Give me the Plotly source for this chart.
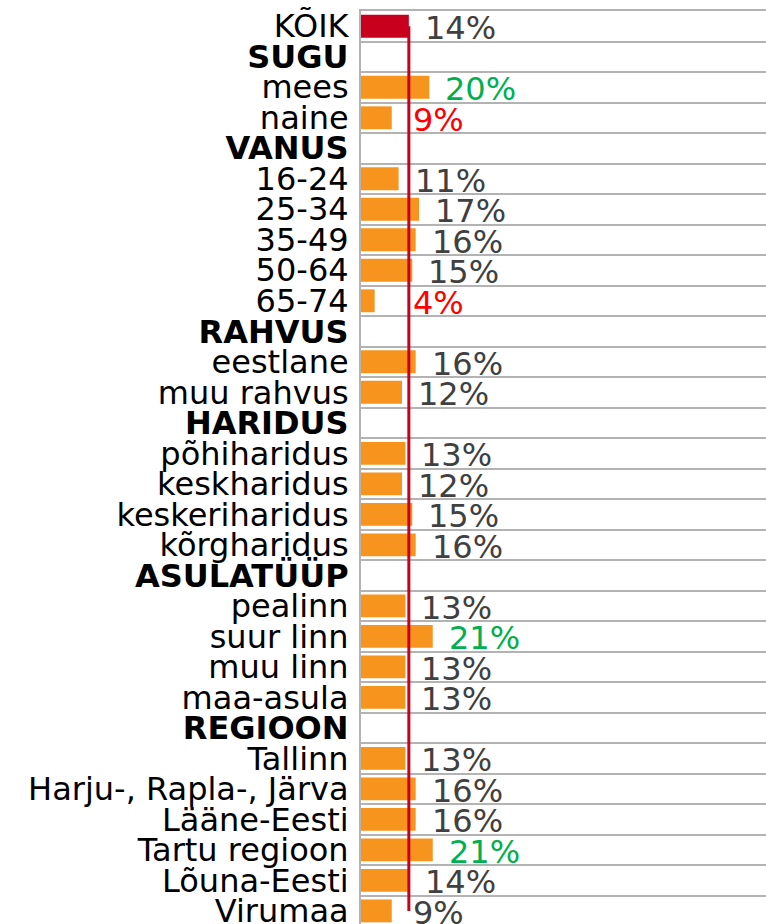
import plotly.graph_objects as go

categories = ["KÕIK", "<b>SUGU</b>", "mees", "naine", "<b>VANUS</b>", "16-24", "25-34", "35-49",
              "50-64", "65-74", "<b>RAHVUS</b>", "eestlane", "muu rahvus", "<b>HARIDUS</b>",
              "põhiharidus", "keskharidus", "keskeriharidus", "kõrgharidus", "<b>ASULATÜÜP</b>",
              "pealinn", "suur linn", "muu linn", "maa-asula", "<b>REGIOON</b>", "Tallinn",
              "Harju-, Rapla-, Järva", "Lääne-Eesti", "Tartu regioon", "Lõuna-Eesti", "Virumaa"]
values = [14, None, 20, 9, None, 11, 17, 16, 15, 4, None, 16, 12, None, 13, 12, 15, 16, None,
          13, 21, 13, 13, None, 13, 16, 16, 21, 14, 9]
# significance marker: 1 = higher (green), -1 = lower (red), 0 = neutral
signif = [0, 0, 1, -1, 0, 0, 0, 0, 0, -1, 0, 0, 0, 0, 0, 0, 0, 0, 0,
          0, 1, 0, 0, 0, 0, 0, 0, 1, 0, 0]
total_value = values[0]

ORANGE = "#F7941D"
RED_BAR = "#C8001E"
GRID = "#B3B3B3"
txt_col = {0: "#404040", 1: "#00B050", -1: "#FF0000"}
LABEL_MIN_X = 10.5  # small-value labels are pushed right of the average line

bar_colors = [RED_BAR if i == 0 else ORANGE for i in range(len(categories))]

fig = go.Figure()
fig.add_trace(go.Bar(
    x=values, y=categories, orientation="h",
    marker=dict(color=bar_colors, line=dict(width=0)),
    width=0.75, hoverinfo="skip", showlegend=False,
))
fig.add_trace(go.Scatter(
    x=[total_value, total_value], y=[categories[0], categories[-1]],
    mode="lines", line=dict(color=RED_BAR, width=3),
    hoverinfo="skip", showlegend=False,
))

for c, v, s in zip(categories, values, signif):
    if v is None:
        continue
    fig.add_annotation(
        x=max(v, LABEL_MIN_X), y=c, text=f"{v}%", showarrow=False,
        xanchor="left", yanchor="middle", xshift=14, yshift=-2,
        font=dict(family="DejaVu Sans", size=32, color=txt_col[s]),
    )

fig.update_layout(
    width=766, height=924,
    margin=dict(l=361, r=0, t=11, b=0, autoexpand=False),
    plot_bgcolor="white", paper_bgcolor="white",
    bargap=0.25,
    font=dict(family="DejaVu Sans", size=32, color="black"),
)
fig.update_xaxes(
    range=[0, 118.5], showgrid=False, zeroline=False, showticklabels=False,
    showline=True, mirror=True, linecolor=GRID, linewidth=2, fixedrange=True,
)
fig.update_yaxes(
    type="category", categoryorder="array", categoryarray=categories,
    autorange=False, range=[29.43, -0.5],
    tickmode="linear", tick0=0, dtick=1,
    tickson="boundaries", showgrid=True, gridcolor=GRID, gridwidth=2,
    showline=True, linecolor=GRID, linewidth=2,
    ticks="", ticklabelstandoff=4,
    tickfont=dict(family="DejaVu Sans", size=32, color="black"),
    automargin=False, fixedrange=True,
)

fig.write_html("out.html", config={"displayModeBar": False},
               post_script="document.body.style.margin='0';document.body.style.overflow='hidden';")
